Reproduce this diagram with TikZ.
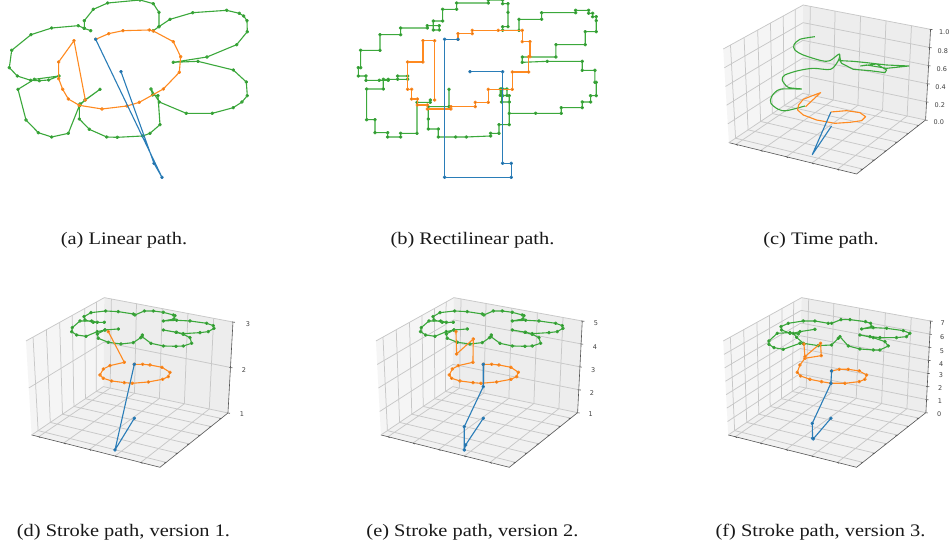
\documentclass[tikz,border=0pt]{standalone}
\usepackage{fontspec}
\setmainfont[FakeStretch=1.16]{Liberation Serif}
\newfontfamily\tickfont{DejaVu Sans}
\usetikzlibrary{calc}
\definecolor{tabblue}{HTML}{2A7DB8}
\definecolor{taborange}{HTML}{FF8A20}
\definecolor{tabgreen}{HTML}{3BA83B}
\definecolor{gridc}{HTML}{C8C8C8}
\definecolor{axisc}{HTML}{555555}
\tikzset{
 zoomed/.style={x=0.3333pt,y=-0.3333pt},
 linea/.style={line width=1.1pt,line join=round,mark=none},
 dots/.style={line width=1.1pt,line join=round,mark=*,mark size=1.25pt,mark options={draw=none,fill=.}},
 capt/.style={font=\fontsize{17.6}{19}\selectfont,text=black!90,inner sep=0pt},
 ticklab/.style={font=\tickfont\fontsize{6.5}{8}\selectfont,text=black!75,inner sep=0pt},
 gridl/.style={draw=gridc,line width=0.75pt},
 axisl/.style={draw=axisc,line width=0.6pt}
}
% corners LT BT RT RB F LB BB
\newcommand{\boxpanel}[9]{%
 \coordinate (LT) at #3; \coordinate (BT) at #4; \coordinate (RT) at #5; \coordinate (RB) at #6;
 \coordinate (FR) at #7; \coordinate (LB) at #8; \coordinate (BB) at #9;
 \fill[fill=black!4] (LT)--(BT)--(BB)--(LB)--cycle;
 \fill[fill=black!7] (BT)--(RT)--(RB)--(BB)--cycle;
 \fill[fill=black!5.5] (LB)--(BB)--(RB)--(FR)--cycle;
 \foreach \f in {.055,.25,.45,.65,.85}{
  \draw[gridl] ($(LB)!\f!(FR)$)--($(BB)!\f!(RB)$)--($(BT)!\f!(RT)$);
  \draw[axisl] ($(LB)!\f!(FR)$)--++(5,3);
 }
 \foreach \f in {.09,.26,.43,.59,.75,.9}{
  \draw[gridl] ($(FR)!\f!(RB)$)--($(LB)!\f!(BB)$)--($(LT)!\f!(BT)$);
  \draw[axisl] ($(FR)!\f!(RB)$)--++(-6,2);
 }
 \draw[axisl] (LB)--(FR)--(RB)--(RT);
}
\newcommand{\zgrid}[1]{%
 \foreach \f in {#1}{
  \draw[gridl] ($(RB)!\f!(RT)$)--($(BB)!\f!(BT)$)--($(LB)!\f!(LT)$);
  \draw[axisl] ($(RB)!\f!(RT)+(-3,0)$)--++(9,1);
 }
}
\newcommand{\greenflower}{plot coordinates {(325,132)(285,135)(262,147)(265,160)(295,172)(333,177)(370,173)(392,158)(397,150)(396,155)(423,175)(460,183)(498,184)(520,183)(545,175)(540,158)(520,148)(498,142)(460,135)(500,142)(520,146)(570,143)(595,140)(612,130)(610,122)(590,115)(540,108)(500,106)(460,108)(492,102)(495,92)(490,90)(460,82)(430,78)(403,78)(375,90)(370,87)(325,80)(287,78)(243,83)(222,95)(225,105)(250,112)(283,112)(262,112)(245,108)(210,108)(187,128)(185,140)(200,150)(228,154)(262,140)(285,135)}}
\begin{document}
\begin{tikzpicture}[x=1pt,y=-1pt]
\useasboundingbox (0,0) rectangle (952,546);
\fill[white] (0,0) rectangle (952,546);
% Panel a
\begin{scope}[zoomed]
\draw[dots,tabgreen] plot coordinates {(272,92)(253,85)(235,77)(155,84)(93,104)(35,151)(28,203)(52,228)(92,241)(118,242)(146,240)(177,228)(103,238)(54,268)(78,360)(115,398)(155,411)(205,400)(240,312)(300,268)(255,300)(238,318)(238,357)(268,388)(320,411)(352,412)(428,408)(450,400)(480,374)(474,287)(458,285)(453,267)(478,306)(559,340)(637,340)(700,323)(726,306)(742,287)(739,246)(700,210)(594,184)(520,187)(621,171)(710,134)(742,95)(741,62)(731,48)(718,40)(680,31)(578,38)(510,58)(477,80)(460,92)(477,80)(477,37)(460,11)(420,0)(323,9)(280,28)(253,62)(253,85)};
\draw[dots,taborange] plot coordinates {(256,300)(222,122)(176,186)(176,236)(188,268)(205,297)(238,316)(306,327)(381,318)(418,307)(490,267)(538,217)(542,170)(520,125)(460,93)(448,90)(369,92)(326,101)(287,118)};
\draw[dots,tabblue] plot coordinates {(363,215)(462,490)(486,532)(287,118)};
\end{scope}
% Panel b
\begin{scope}[zoomed,shift={(1050,0)}]
\draw[dots,tabgreen] plot coordinates {(297,268)(297,320)(235,320)(235,357)(235,387)(265,387)(265,411)(317,411)(349,411)(422,408)(422,400)(447,400)(447,374)(478,374)(478,287)(458,287)(458,267)(451,267)(451,286)(471,286)(471,267)(455,267)(455,306)(478,306)(478,340)(557,340)(634,340)(634,323)(697,323)(697,306)(722,306)(722,287)(739,287)(739,247)(735,247)(735,211)(697,211)(697,184)(592,184)(517,187)(517,171)(618,171)(618,134)(706,134)(706,95)(739,95)(739,62)(739,50)(728,50)(728,40)(716,40)(716,31)(677,31)(677,38)(575,38)(575,58)(507,58)(507,91)(458,91)(458,80)(474,80)(474,37)(474,11)(458,11)(458,0)(415,0)(415,9)(320,9)(320,28)(278,28)(278,63)(250,63)(250,90)(268,90)(268,77)(232,77)(232,84)(152,84)(152,104)(90,104)(90,151)(32,151)(32,203)(25,203)(25,228)(48,228)(48,241)(88,241)(115,241)(115,238)(143,238)(143,228)(173,228)(173,238)(100,238)(100,267)(50,267)(50,359)(75,359)(75,398)(113,398)(113,411)(152,411)(152,400)(201,400)(201,307)(241,307)(241,300)};
\draw[dots,taborange] plot coordinates {(254,300)(254,122)(219,122)(219,186)(173,186)(173,268)(185,268)(185,297)(202,297)(202,315)(232,315)(232,327)(303,327)(303,320)(376,320)(376,307)(415,307)(415,268)(487,268)(487,216)(536,216)(536,170)(540,170)(540,125)(517,125)(517,91)(445,91)(367,91)(367,101)(324,101)(324,118)};
\draw[dots,tabblue] plot coordinates {(360,215)(458,215)(458,490)(484,490)(484,532)(284,532)(284,118)(324,118)};
\end{scope}
% Panel c
\begin{scope}[zoomed,shift={(2130,0)}]
\boxpanel{0}{0}{(40,147)}{(280,15)}{(662,88)}{(647,360)}{(440,522)}{(57,428)}{(278,280)}
\zgrid{0,.2,.4,.6,.8,1}
\foreach \t/\yy/\xx in {0.0/365/687,0.2/315/690,0.4/261/692,0.6/207/696,0.8/152/699,1.0/95/703}
 \node[ticklab] (tick\yy) at (\xx,\yy) {\t};
\draw[linea,tabgreen] plot[smooth,tension=.5] coordinates {(315,110)(270,118)(252,135)(255,150)(280,165)(335,182)(360,182)(388,162)(385,182)(362,208)(310,205)(265,212)(225,225)(217,240)(235,262)(275,267)(210,268)(185,290)(183,310)(205,328)(230,332)(285,318)};
\draw[linea,tabgreen] plot coordinates {(388,162)(392,182)(430,184)(470,188)(530,195)(597,198)(530,205)(470,195)(452,198)(500,192)(530,210)(525,218)(480,212)(430,208)(395,190)(388,178)};
\draw[linea,taborange] plot coordinates {(287,320)(332,278)(305,288)(280,298)(266,315)(263,330)(280,345)(320,360)(375,370)(420,367)(455,362)(467,350)(450,338)(410,332)(363,336)};
\draw[linea,tabblue] plot coordinates {(363,336)(307,464)(365,378)};
\end{scope}
% Panel d
\begin{scope}[zoomed,shift={(30,855)}]
\boxpanel{0}{0}{(48,168)}{(283,38)}{(669,111)}{(654,384)}{(450,547)}{(65,450)}{(280,305)}
\zgrid{0,.5,1}
\foreach \t/\yy/\xx in {1/387/696,2/255/702,3/117/714}
 \node[ticklab] (tick\yy) at (\xx,\yy) {\t};
\draw[dots,tabgreen] \greenflower;
\draw[dots,taborange] plot coordinates {(295,140)(343,232)(300,242)(280,252)(270,270)(280,280)(305,288)(343,293)(367,295)(415,291)(458,283)(475,275)(480,262)(456,247)(420,240)(398,238)(373,238)};
\draw[dots,tabblue] plot coordinates {(373,400)(315,495)(373,238)};
\end{scope}
% Panel e
\begin{scope}[zoomed,shift={(1050,855)}]
\boxpanel{0}{0}{(78,168)}{(312,38)}{(697,108)}{(683,383)}{(478,547)}{(93,450)}{(308,305)}
\zgrid{0,.25,.5,.75,1}
\foreach \t/\yy/\xx in {1/388/722,2/323/726,3/255/730,4/186/735,5/116/738}
 \node[ticklab] (tick\yy) at (\xx,\yy) {\t};
\begin{scope}[shift={(27,0)}]
\draw[dots,tabgreen] \greenflower;
\end{scope}
\draw[dots,taborange] plot coordinates {(318,140)(320,207)(370,162)(369,232)(325,242)(307,252)(298,270)(305,280)(330,288)(369,293)(393,295)(440,291)(483,283)(500,275)(505,262)(483,247)(447,240)(425,238)(400,238)};
\draw[dots,tabblue] plot coordinates {(400,238)(400,305)(343,425)(343,495)(347,480)(400,400)};
\end{scope}
% Panel f
\begin{scope}[zoomed,shift={(2100,855)}]
\boxpanel{0}{0}{(70,168)}{(305,38)}{(692,108)}{(678,383)}{(470,547)}{(85,450)}{(298,305)}
\zgrid{0,.1429,.2857,.4286,.5714,.7143,.8571,1}
\foreach \t/\yy/\xx in {0/388/718,1/347/720,2/310/721,3/271/723,4/237/724,5/198/726,6/157/727,7/115/728}
 \node[ticklab] (tick\yy) at (\xx,\yy) {\t};
\draw[dots,tabgreen] plot coordinates {(345,133)(300,140)(280,145)(290,157)(310,175)(355,182)(395,180)(415,160)(420,155)(445,183)(480,192)(520,195)(540,195)(565,183)(555,170)(520,158)(480,150)(510,155)(540,158)(590,158)(620,155)(630,145)(610,137)(560,130)(520,128)(485,132)(515,125)(512,115)(497,110)(450,104)(423,104)(395,115)(385,115)(345,108)(310,108)(265,115)(243,125)(245,135)(270,145)(295,147)(270,143)(232,145)(207,168)(207,178)(222,188)(250,193)(300,175)(312,177)};
\draw[dots,taborange] plot coordinates {(312,177)(315,215)(362,175)(364,212)(315,220)(300,240)(292,262)(302,273)(330,283)(365,290)(393,295)(435,295)(478,290)(495,283)(500,270)(478,258)(445,253)(418,253)(395,258)};
\draw[dots,tabblue] plot coordinates {(395,258)(393,295)(337,415)(338,460)(340,462)(393,400)};
\end{scope}
% Captions
\node[capt] (capa) at (124,240.5) {(a) Linear path.};
\node[capt] (capb) at (472.5,240.5) {(b) Rectilinear path.};
\node[capt] (capc) at (821,240.5) {(c) Time path.};
\node[capt] (capd) at (123.5,532.5) {(d) Stroke path, version 1.};
\node[capt] (cape) at (472.5,532.5) {(e) Stroke path, version 2.};
\node[capt] (capf) at (820.5,532.5) {(f) Stroke path, version 3.};
\end{tikzpicture}
\end{document}
